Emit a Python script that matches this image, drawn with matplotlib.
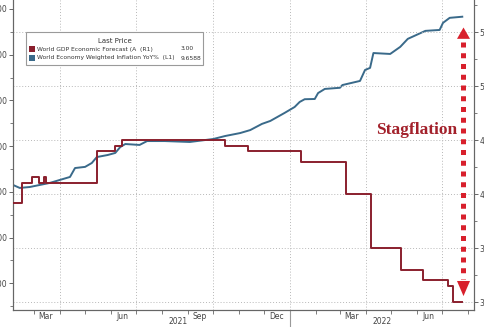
import matplotlib
matplotlib.use("Agg")
import matplotlib.pyplot as plt
import matplotlib.dates as mdates
from matplotlib.patches import Rectangle, Polygon
from matplotlib.ticker import FixedLocator, NullFormatter, FormatStrFormatter, MultipleLocator
import matplotlib.transforms as mtransforms
import pandas as pd

# World GDP economic forecast (right axis), step series
gdp_dates = ["2021-02-04", "2021-02-15", "2021-02-27", "2021-03-07", "2021-03-13",
             "2021-03-15", "2021-05-15", "2021-06-06", "2021-06-14", "2021-10-15",
             "2021-11-11", "2022-01-14", "2022-03-08", "2022-04-07", "2022-05-13",
             "2022-06-08", "2022-07-08", "2022-07-14", "2022-07-25"]
gdp_vals = [3.92, 4.10, 4.16, 4.10, 4.16,
            4.10, 4.40, 4.45, 4.50, 4.45,
            4.40, 4.30, 4.00, 3.50, 3.30,
            3.20, 3.15, 3.00, 3.00]

# World economy weighted inflation YoY% (left axis)
infl_dates = ["2021-02-04", "2021-02-12", "2021-02-24", "2021-03-08", "2021-03-20",
              "2021-04-01", "2021-04-13", "2021-04-19", "2021-05-01", "2021-05-09",
              "2021-05-15", "2021-05-28", "2021-06-06", "2021-06-12", "2021-06-18",
              "2021-07-05", "2021-07-14", "2021-08-04", "2021-09-03", "2021-10-01",
              "2021-10-15", "2021-11-02", "2021-11-14", "2021-11-28", "2021-12-08",
              "2021-12-25", "2022-01-06", "2022-01-12", "2022-01-18", "2022-01-30",
              "2022-02-03", "2022-02-11", "2022-03-01", "2022-03-04", "2022-03-25",
              "2022-03-31", "2022-04-06", "2022-04-10", "2022-04-30", "2022-05-12",
              "2022-05-21", "2022-06-11", "2022-06-28", "2022-07-02", "2022-07-10",
              "2022-07-25"]
infl_vals = [2.30, 2.17, 2.21, 2.30, 2.39,
             2.52, 2.65, 3.04, 3.09, 3.26,
             3.52, 3.61, 3.70, 3.96, 4.09,
             4.05, 4.22, 4.22, 4.18, 4.31,
             4.44, 4.57, 4.70, 4.97, 5.10,
             5.45, 5.71, 5.93, 6.05, 6.06,
             6.32, 6.50, 6.55, 6.67, 6.85,
             7.33, 7.42, 8.07, 8.03, 8.34,
             8.69, 9.04, 9.08, 9.39, 9.61,
             9.6588]

month_labels = ["Mar", "Jun", "Sep", "Dec", "Mar", "Jun"]
month_label_dates = ["2021-03-15", "2021-06-15", "2021-09-15", "2021-12-15",
                     "2022-03-15", "2022-06-15"]
quarter_lines = ["2021-04-01", "2021-07-01", "2021-10-01", "2022-04-01", "2022-07-01"]
year_break = "2022-01-01"

gdp_dates = pd.to_datetime(gdp_dates)
infl_dates = pd.to_datetime(infl_dates)

W, H = 485, 327
fig = plt.figure(figsize=(W / 100, H / 100), dpi=100)
L, R, B, T = 13, 474, 310, 0
ax = fig.add_axes([L / W, 1 - B / H, (R - L) / W, (B - T) / H])
ax2 = ax.twinx()

red = "#8a1f2d"
blue = "#3a6a8a"
tick_col = "#444444"

ax.plot(infl_dates, infl_vals, color=blue, lw=1.4, zorder=3)
ax2.plot(gdp_dates, gdp_vals, color=red, lw=1.4, drawstyle="steps-post", zorder=3)

ax.set_xlim(pd.Timestamp("2021-02-04"), pd.Timestamp("2022-08-08"))
ax.set_ylim(-3.17, 10.39)
ax2.set_ylim(2.926, 5.80)

# axes styling
for a in (ax, ax2):
    a.spines["top"].set_visible(False)
    for s in ("left", "right", "bottom"):
        a.spines[s].set_color("#666666")
        a.spines[s].set_linewidth(0.8)

ax.yaxis.set_major_locator(MultipleLocator(2))
ax.yaxis.set_minor_locator(MultipleLocator(1))
ax.yaxis.set_major_formatter(FormatStrFormatter("%.2f"))
ax2.yaxis.set_major_locator(MultipleLocator(0.5))
ax2.yaxis.set_minor_locator(MultipleLocator(0.25))
ax2.yaxis.set_major_formatter(FormatStrFormatter("%.2f"))

for a in (ax, ax2):
    a.tick_params(axis="y", which="major", length=3, width=0.7, color="#666666",
                  labelsize=5.5, labelcolor=tick_col, pad=1)
    a.tick_params(axis="y", which="minor", length=2, width=0.6, color="#666666")

# x axis: month boundaries as minor ticks, labels mid-month
ax.xaxis.set_minor_locator(mdates.MonthLocator())
ax.xaxis.set_minor_formatter(NullFormatter())
ax.xaxis.set_major_locator(FixedLocator(mdates.date2num(pd.to_datetime(month_label_dates))))
ax.set_xticklabels(month_labels)
ax.tick_params(axis="x", which="major", length=0, labelsize=5.5, labelcolor=tick_col, pad=1.5)
ax.tick_params(axis="x", which="minor", length=3, width=0.6, color="#666666")

# grid
ax2.grid(axis="y", which="major", color="#b8b8b8", lw=0.7, ls=(0, (1, 2)))
for d in quarter_lines + [year_break]:
    ax.axvline(pd.Timestamp(d), color="#b8b8b8", lw=0.7, ls=(0, (1, 2)), zorder=1)

trans_xaxes = mtransforms.blended_transform_factory(ax.transData, ax.transAxes)
yb = mdates.date2num(pd.Timestamp(year_break))
ax.plot([yb, yb], [0, -0.06], color="#999999", lw=0.8, transform=trans_xaxes, clip_on=False)
ax.text(mdates.date2num(pd.Timestamp("2021-08-20")), -0.038, "2021", transform=trans_xaxes,
        ha="center", va="center", fontsize=5.5, color=tick_col)
ax.text(mdates.date2num(pd.Timestamp("2022-04-20")), -0.038, "2022", transform=trans_xaxes,
        ha="center", va="center", fontsize=5.5, color=tick_col)


def px(x, y):
    return (x - L) / (R - L), (B - y) / (B - T)


# legend box
lx0, ly0 = px(26, 65)
lx1, ly1 = px(203, 32)
ax2.add_patch(Rectangle((lx0, ly0), lx1 - lx0, ly1 - ly0, transform=ax2.transAxes,
                        facecolor="white", edgecolor="#9a9a9a", lw=0.8, zorder=5))
ax2.text(*px(115, 41), "Last Price", transform=ax2.transAxes, ha="center", va="center",
         fontsize=5, color="#333333", zorder=6)
legend_rows = [
    (red, "World GDP Economic Forecast (A  (R1)", "3.00", 49, 194),
    (blue, "World Economy Weighted Inflation YoY%  (L1)", "9.6588", 58, 201),
]
for col, lab, val, yy, xr in legend_rows:
    sx, sy = px(29, yy + 3)
    sw, sh = px(35, yy - 3)
    ax2.add_patch(Rectangle((sx, sy), sw - sx, sh - sy, transform=ax2.transAxes,
                            facecolor=col, edgecolor="none", zorder=6))
    ax2.text(*px(37.5, yy), lab, transform=ax2.transAxes, ha="left", va="center",
             fontsize=4.3, color="#333333", zorder=6)
    ax2.text(*px(xr, yy), val, transform=ax2.transAxes, ha="right", va="center",
             fontsize=4.3, color="#333333", zorder=6)

# stagflation arrow
arrow_col = "#d8202c"
ax_x = px(463.5, 0)[0]
hw = 6.5 / (R - L)
trans_arrow = mtransforms.blended_transform_factory(ax2.transAxes, ax2.transData)
ax2.plot([ax_x, ax_x], [5.41, 3.21], color=arrow_col, lw=3.6, ls=(0, (1, 1.15)),
         transform=trans_arrow, zorder=7)
ax2.add_patch(Polygon([(ax_x, 5.545), (ax_x - hw, 5.44), (ax_x + hw, 5.44)], closed=True,
                      transform=trans_arrow, facecolor=arrow_col, edgecolor="none", zorder=7))
ax2.add_patch(Polygon([(ax_x, 3.055), (ax_x - hw, 3.195), (ax_x + hw, 3.195)], closed=True,
                      transform=trans_arrow, facecolor=arrow_col, edgecolor="none", zorder=7))
ax2.text(*px(417, 130), "Stagflation", transform=ax2.transAxes, ha="center", va="center",
         fontsize=12.5, fontweight="bold", family="Liberation Serif", color="#a3212b", zorder=7)

fig.savefig("out.png", dpi=100)
